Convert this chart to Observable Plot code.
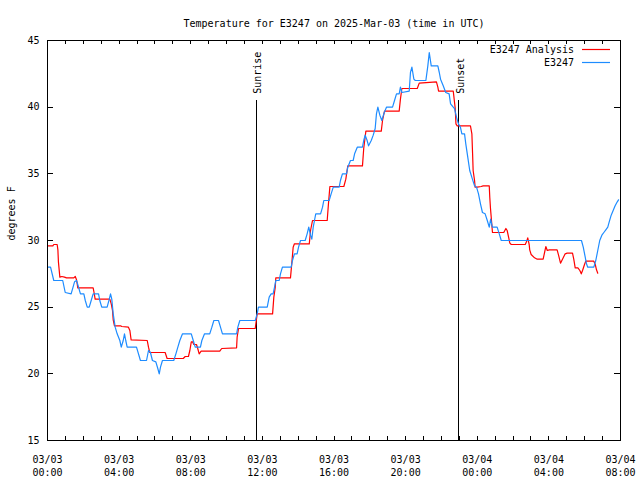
<!DOCTYPE html>
<html>
<head>
<meta charset="utf-8">
<script src="https://cdn.jsdelivr.net/npm/d3@7"></script>
<script src="https://cdn.jsdelivr.net/npm/@observablehq/plot@0.6"></script>
<style>
  html, body { margin: 0; padding: 0; background: #fff; }
  #chart svg { display: block; }
</style>
</head>
<body>
<div id="chart"></div>
<script>
// ---------- data (hours since 2025-03-03 00:00 UTC, degrees F) ----------
const titleText = "Temperature for E3247 on 2025-Mar-03 (time in UTC)";
const yLabel = "degrees F";
const seriesNames = ["E3247 Analysis", "E3247"];
const seriesColors = ["#ff0000", "#1e8cff"];

const obsHours = [0,0.17,0.35,0.85,0.99,1.32,1.51,1.62,1.69,1.84,2.03,2.11,2.22,2.33,2.44,2.55,2.85,2.92,3.03,3.33,3.45,3.52,3.59,3.67,3.78,3.89,4.04,4.12,4.23,4.30,4.37,4.45,4.97,5.19,5.53,5.64,5.75,5.86,6.05,6.16,6.24,6.31,6.42,7.05,7.17,7.28,7.39,7.54,8.03,8.14,8.25,8.54,8.62,8.77,9.06,9.18,9.29,9.55,9.66,9.77,10.56,10.63,10.74,11.60,11.71,11.78,12.27,12.38,12.49,12.60,12.68,12.75,12.94,13.01,13.12,13.61,13.68,13.79,13.94,14.02,14.13,14.39,14.50,14.59,14.69,14.76,14.84,14.91,14.98,15.25,15.36,15.43,15.73,15.84,15.96,16.29,16.36,16.47,16.70,16.77,16.92,17.07,17.15,17.30,17.59,17.66,17.74,17.85,17.93,18.08,18.19,18.30,18.37,18.45,18.56,18.67,18.78,18.93,19.27,19.38,19.49,19.64,19.71,19.79,20.20,20.27,20.35,20.46,20.54,21.13,21.24,21.32,21.43,21.80,21.88,21.95,22.10,22.24,22.43,22.51,22.66,22.73,22.84,22.95,23.06,23.14,23.29,23.36,23.47,23.58,23.73,23.85,23.96,24.07,24.18,24.29,24.44,24.56,24.67,24.75,24.84,24.92,25.11,25.23,25.34,29.82,29.92,30.03,30.10,30.17,30.51,30.62,30.73,30.84,30.96,31.07,31.18,31.29,31.37,31.48,31.59,31.70,31.82,31.89];
const obsTemps = [28,28,27,27,26.1,26,26.9,27,26.7,26,26,25.5,25,25,25.5,26,26,25.5,25,25,25.6,26,25.6,24.5,23.5,23,22.5,22,22.5,23,22.5,22,22,21,21,21.75,21.6,21,20.9,20.4,20,20.5,21,21,21.5,22,22.5,23,23,22.5,22,22,22.5,23,23,23.5,24,24,23.5,23,23,23.5,24,24,24.5,25,25,25.75,26,26,26.5,27,27,27.5,28,28,28.5,29,29,29.5,30,30,30.5,31,30.4,30.1,31,31.5,32,32,32.5,33,33,33.5,34,34,34.5,35,35,35.5,36,36,36.5,37,37,37.5,37.9,37.5,37.1,37.5,37.9,38.4,39.5,40,39.4,39,39.5,40,40,40.5,41,41,41.5,41.1,41.2,42.6,43,42.1,42,42,43.1,44.1,43.1,43.1,42.6,42.1,41.6,41.1,41,40.25,40,39.9,39.25,38.75,38.5,38,38,37.25,36.25,35.25,34.6,34.1,34,33.5,32.75,32.1,32,31.5,31,31.6,31,31,31,30.5,30,30,29.5,28.75,28.25,28,28,28.5,29.25,30,30.4,30.6,30.8,31,31.4,31.9,32.25,32.6,32.9,33.05];

const anaHours = [0,0.30,0.35,0.54,0.58,0.61,0.69,0.80,0.95,1.06,1.47,1.55,1.62,1.66,1.69,2.55,2.62,2.66,3.48,3.56,3.63,3.67,3.74,4.08,4.15,4.52,4.60,4.67,5.57,5.64,5.71,6.57,6.68,7.58,7.69,7.87,7.95,8.03,8.10,8.17,8.32,8.39,8.47,8.58,8.70,9.62,9.73,10.56,10.59,10.67,11.60,11.71,12.57,12.64,12.72,12.75,13.57,13.64,13.72,13.79,14.62,14.69,14.80,15.62,15.69,15.77,16.55,16.66,16.77,17.59,17.66,17.78,18.64,18.71,18.82,19.64,19.71,19.79,20.65,20.76,21.72,21.80,21.84,22.66,22.77,22.81,22.88,23.62,23.70,23.74,23.77,23.85,23.88,24.00,24.22,24.33,24.67,24.70,24.74,24.81,24.85,25.48,25.60,25.67,25.75,25.82,25.90,26.68,26.75,26.82,26.90,26.93,27.01,27.20,27.35,27.68,27.76,27.83,27.91,28.02,28.46,28.54,28.65,28.76,28.91,29.02,29.32,29.39,29.47,29.62,29.73,29.81,29.88,29.99,30.06,30.51,30.59,30.66,30.73];
const anaTemps = [29.6,29.6,29.7,29.7,29.3,28.4,27.25,27.3,27.25,27.2,27.2,27.3,27.05,26.75,26.45,26.45,25.95,25.6,25.6,25.25,24.75,24.05,23.6,23.6,23.55,23.5,23.25,22.55,22.5,22,21.6,21.6,21.15,21.15,21.3,21.3,21.75,22.4,22.4,22.2,22.2,21.9,21.5,21.7,21.7,21.7,21.9,21.95,22.75,23.4,23.4,24.5,24.5,25.75,26.5,27.2,27.2,28.25,29.5,29.75,29.75,30.75,31.5,31.5,32.75,34.05,34.05,34.6,35.6,35.6,36.9,38.2,38.2,39,39.7,39.7,40.6,41.4,41.4,41.8,41.9,41.5,41.2,41.2,39.9,38.75,38.6,38.6,38,36.5,35.25,34.5,34,34,34.05,34.1,34.1,33.25,32.4,31.25,30.6,30.6,30.9,30.75,30.25,29.8,29.7,29.7,29.9,30.2,29.7,29.3,28.95,28.7,28.6,28.6,29.1,29.55,29.25,29.3,29.3,28.9,28.3,28.6,29,29.05,29.05,28.6,27.95,27.95,27.75,27.5,27.75,28.2,28.45,28.45,28.2,27.8,27.55];

const sunNames = ["Sunrise", "Sunset"];
const sunHours = [11.67, 22.97];

const xMajorHours = [0, 4, 8, 12, 16, 20, 24, 28, 32];
const xMinorHours = d3.range(0, 33, 1);
const yTicks = [15, 20, 25, 30, 35, 40, 45];
const yDomain = [15, 45];
const sunLineTop = 40.5;
const sunLabelY = 41;

// ---------- build tables ----------
const base = Date.UTC(2025, 2, 3, 0, 0);
const toDate = h => new Date(base + h * 3600e3);
const obs = obsHours.map((h, i) => ({t: toDate(h), v: obsTemps[i]}));
const ana = anaHours.map((h, i) => ({t: toDate(h), v: anaTemps[i]}));
const suns = sunNames.map((n, i) => ({name: n, t: toDate(sunHours[i])}));
const majors = xMajorHours.map(toDate);
const minors = xMinorHours.map(toDate);
const fmt = d3.utcFormat("%m/%d");
const fmt2 = d3.utcFormat("%H:%M");

const FONT = "'DejaVu Sans Mono', 'Liberation Mono', monospace";
const W = 640, H = 480, ML = 47, MR = 20, MT = 40, MB = 40;
const plotW = W - ML - MR, plotH = H - MT - MB;

const legend = (index, scales, values, dims) => {
  const g = d3.create("svg:g").attr("font-family", FONT).attr("font-size", 10);
  const xr = dims.width - dims.marginRight;
  seriesNames.forEach((name, i) => {
    const y = dims.marginTop + 9.5 + i * 13;
    g.append("text").attr("x", xr - 46).attr("y", y).attr("text-anchor", "end")
      .attr("dominant-baseline", "middle").attr("fill", "black").text(name);
    g.append("line").attr("x1", xr - 38).attr("x2", xr - 10).attr("y1", y).attr("y2", y)
      .attr("stroke", seriesColors[i]).attr("stroke-width", 1.2);
  });
  return g.node();
};

const chart = Plot.plot({
  width: W, height: H,
  marginLeft: ML, marginRight: MR, marginTop: MT, marginBottom: MB,
  style: {fontFamily: FONT, fontSize: "10px", background: "white", color: "black"},
  x: {type: "utc", domain: [toDate(0), toDate(32)]},
  y: {domain: yDomain},
  marks: [
    // x ticks (inward, bottom & top)
    Plot.ruleX(minors, {x: d => d, insetTop: plotH - 4, stroke: "black", shapeRendering: "crispEdges"}),
    Plot.ruleX(minors, {x: d => d, insetBottom: plotH - 4, stroke: "black", shapeRendering: "crispEdges"}),
    // y ticks (inward, left & right)
    Plot.ruleY(yTicks, {y: d => d, insetRight: plotW - 6, stroke: "black", shapeRendering: "crispEdges"}),
    Plot.ruleY(yTicks, {y: d => d, insetLeft: plotW - 6, stroke: "black", shapeRendering: "crispEdges"}),
    Plot.axisX({ticks: majors, tickSize: 0, tickPadding: 13, tickFormat: d => fmt(d) + "\n" + fmt2(d),
      fontSize: 10, lineHeight: 1.3, label: null}),
    Plot.axisY({ticks: yTicks, tickSize: 0, tickPadding: 8, fontSize: 10, label: null}),
    // sunrise / sunset
    Plot.ruleX(suns, {x: "t", y1: yDomain[0], y2: sunLineTop, stroke: "black", shapeRendering: "crispEdges"}),
    Plot.text(suns, {x: "t", y: sunLabelY, text: "name", rotate: -90, textAnchor: "start",
      lineAnchor: "middle", dx: 1.5, fontSize: 10, fill: "black"}),
    // series
    Plot.line(ana, {x: "t", y: "v", stroke: seriesColors[0], strokeWidth: 1.2}),
    Plot.line(obs, {x: "t", y: "v", stroke: seriesColors[1], strokeWidth: 1.2}),
    Plot.frame({stroke: "black", shapeRendering: "crispEdges"}),
    // title and y label
    Plot.text([titleText], {frameAnchor: "top", dy: -21, fontSize: 10, fill: "black"}),
    Plot.text([yLabel], {frameAnchor: "left", dx: -36, rotate: -90, fontSize: 10, fill: "black"}),
    legend
  ]
});
document.getElementById("chart").appendChild(chart);
</script>
</body>
</html>
